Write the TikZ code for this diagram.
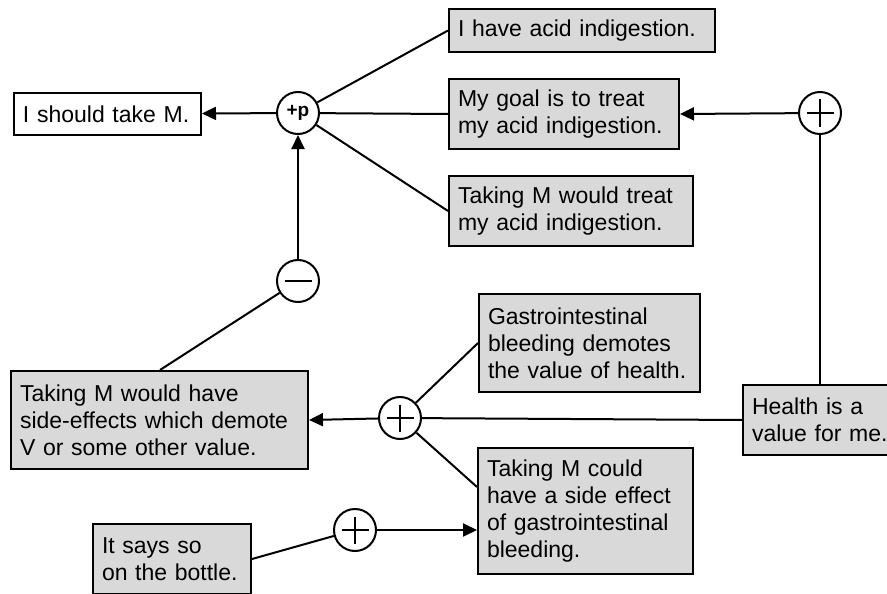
\documentclass[tikz,border=0pt]{standalone}
\usepackage{fontspec}
\setmainfont{Liberation Sans}
\usetikzlibrary{arrows.meta,calc}
\definecolor{boxgray}{RGB}{217,217,217}
\tikzset{
  box/.style={draw, line width=2pt, fill=boxgray, anchor=north west, align=left,
    inner xsep=9pt, inner ysep=0pt, font=\fontsize{23}{27}\selectfont},
  op/.style={draw, circle, line width=2pt, fill=white, minimum size=42pt, inner sep=0pt},
  plusop/.style={op, path picture={
      \draw[line width=2pt] ($(path picture bounding box.center)+(-13.5,0)$) -- ++(27,0);
      \draw[line width=2pt] ($(path picture bounding box.center)+(0,-13.5)$) -- ++(0,27);}},
  minusop/.style={op, path picture={
      \draw[line width=2pt] ($(path picture bounding box.center)+(-13.5,0)$) -- ++(27,0);}},
  con/.style={line width=2pt},
  arr/.style={con, -{Triangle[length=14pt,width=13pt]}},
}
\begin{document}
\begin{tikzpicture}[x=1pt,y=-1pt]
\useasboundingbox (0,0) rectangle (887,594);
% boxes
\node[box, fill=white, text width=169pt, minimum height=42pt] (take) at (13,92) {I should take M.};
\node[box, text width=248pt, minimum height=43pt] (acid) at (448,8) {I have acid indigestion.};
\node[box, text width=212pt, minimum height=70pt] (goal) at (448,78) {My goal is to treat\\my acid indigestion.};
\node[box, text width=226pt, minimum height=70pt] (treat) at (448,175) {Taking M would treat\\my acid indigestion.};
\node[box, text width=142pt, minimum height=70pt] (health) at (742,384) {Health is a\\value for me.};
\node[box, text width=279pt, minimum height=98pt] (sidefx) at (10,370) {Taking M would have\\side-effects which demote\\V or some other value.};
\node[box, text width=203pt, minimum height=98pt] (gastro) at (478,293) {Gastrointestinal\\bleeding demotes\\the value of health.};
\node[box, text width=197pt, minimum height=126pt] (could) at (477,447) {Taking M could\\have a side effect\\of gastrointestinal\\bleeding.};
\node[box, text width=140pt, minimum height=70pt] (bottle) at (92,523) {It says so\\on the bottle.};
% operators
\node[op, font=\fontsize{19}{19}\selectfont\bfseries] (pp) at (298,113) {+p};
\node[plusop] (plusTR) at (820,113) {};
\node[plusop] (plusM) at (400,418) {};
\node[minusop] (minus) at (298,281) {};
\node[plusop] (plusB) at (355,530) {};
% connectors
\draw[arr] (pp) -- (take);
\draw[con] (pp) -- (acid.west);
\draw[con] (pp) -- (goal.west);
\draw[con] (pp) -- (treat.west);
\draw[arr] (plusTR) -- (goal.east);
\draw[con] (plusTR) -- (plusTR |- health.north);
\draw[con] (health.west) -- (plusM);
\draw[arr] (plusM) -- (sidefx.east);
\draw[con] (plusM) -- (gastro.west);
\coordinate (couldin) at ($(could.north west)+(0,40)$);
\draw[con] (plusM) -- (couldin);
\draw[arr] (plusB) -- (plusB -| could.west);
\draw[con] (bottle.east) -- (plusB);
\coordinate (sidetop) at ($(sidefx.north west)+(150,0)$);
\draw[con] (sidetop) -- (minus);
\draw[arr] (minus) -- (pp);
\end{tikzpicture}
\end{document}
